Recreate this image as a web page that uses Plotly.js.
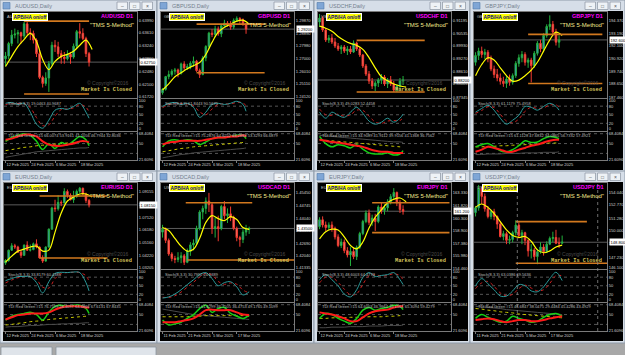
<!DOCTYPE html>
<html><head><meta charset="utf-8">
<script src="https://cdn.plot.ly/plotly-3.0.1.min.js"></script>
<style>html,body{margin:0;padding:0;background:#ababab;overflow:hidden}#c{width:625px;height:355px}</style>
</head><body><div id="c"></div><script>
// ---------- shared axis data ----------
const DATES_A = ['12 Feb 2025','24 Feb 2025','6 Mar 2025','18 Mar 2025'];
const DATES_B = ['11 Feb 2025','21 Feb 2025','5 Mar 2025','17 Mar 2025'];
const DATE_TICK_BARS = [0, 8, 16, 24];
const IND_X28 = [0,2,4,6,8,10,12,14,16,18,20,22,24,26,27];
const IND_X29 = [0,2,4,6,8,10,12,14,16,18,20,22,24,26,28];
const MA_X = [0,2,4,6,8,10,12,14,16,18,20,22,24,26,28];
const STOCH_TICKS = [0,20,50,80,100];
const STOCH_LEVELS = [20,50,80];
const TDI_TICKS = [21.6,50,68.4];
const TDI_TICKTEXT = ['21.6096','50','68.4084'];
const TDI_LEVELS = [32,50,68];

// ---------- AUDUSD ----------
const AUDUSD_open  = [0.6285,0.6293,0.6330,0.6355,0.6358,0.6362,0.6352,0.6388,0.6362,0.6360,0.6340,0.6300,0.6230,0.6212,0.6228,0.6270,0.6325,0.6320,0.6300,0.6290,0.6285,0.6298,0.6290,0.6322,0.6365,0.6360,0.6345,0.6300];
const AUDUSD_high  = [0.6305,0.6335,0.6370,0.6374,0.6370,0.6365,0.6395,0.6408,0.6375,0.6368,0.6345,0.6310,0.6235,0.6245,0.6278,0.6335,0.6340,0.6335,0.6310,0.6305,0.6310,0.6305,0.6330,0.6370,0.6390,0.6375,0.6350,0.6305];
const AUDUSD_low   = [0.6262,0.6283,0.6322,0.6345,0.6330,0.6330,0.6345,0.6355,0.6340,0.6330,0.6290,0.6225,0.6200,0.6205,0.6187,0.6265,0.6305,0.6290,0.6270,0.6270,0.6280,0.6270,0.6285,0.6315,0.6345,0.6340,0.6290,0.6262];
const AUDUSD_close = [0.6293,0.6330,0.6355,0.6358,0.6362,0.6352,0.6388,0.6362,0.6360,0.6340,0.6300,0.6230,0.6212,0.6228,0.6270,0.6325,0.6320,0.6300,0.6290,0.6285,0.6298,0.6290,0.6322,0.6365,0.6360,0.6345,0.6300,0.6275];
const AUDUSD_ma    = [0.6262,0.6292,0.6321,0.6342,0.6360,0.6336,0.6283,0.6253,0.6277,0.6292,0.6298,0.6307,0.6325,0.6340,0.6312];
const AUDUSD_orange = [0.6396,0.6181];
const AUDUSD_span  = [[6,27],[6,27]];
const AUDUSD_stochK = [90,93,86,90,59,17,3,31,66,72,69,79,90,59,38];
const AUDUSD_stochD = [85,91,89,89,75,40,12,15,45,68,70,74,86,76,60];
const AUDUSD_tdiRed = [57,59,63,66,66,63,54,48,46,46,48,50,54,54,52];
const AUDUSD_tdiGreen = [54,61,65,68,65,54,39,50,41,52,48,55,63,57,46];
const AUDUSD_tdiYellow = [37,39,41,43,44,46,47,48,49,50,51,52,53,54,55];
const AUDUSD_tdiGrey = [25,27,29,31,33,35,36,37,38,39,40,41,42,42,43];
const AUDUSD_ticks = [0.61720,0.62100,0.62480,0.62860,0.63240,0.63610,0.63990];
const AUDUSD_range = [0.6169,0.6423];

// ---------- GBPUSD ----------
const GBPUSD_open  = [1.2445,1.2470,1.2565,1.2580,1.2605,1.2615,1.2590,1.2660,1.2630,1.2640,1.2665,1.2680,1.2610,1.2580,1.2705,1.2790,1.2890,1.2880,1.2920,1.2885,1.2945,1.2965,1.2960,1.2935,1.2985,1.3000,1.2990,1.2960];
const GBPUSD_high  = [1.2480,1.2570,1.2610,1.2620,1.2630,1.2625,1.2670,1.2680,1.2660,1.2680,1.2715,1.2690,1.2625,1.2720,1.2800,1.2900,1.2920,1.2945,1.2940,1.2960,1.2990,1.2980,1.2980,1.3000,1.3015,1.3010,1.3000,1.2965];
const GBPUSD_low   = [1.2430,1.2460,1.2545,1.2565,1.2580,1.2560,1.2580,1.2610,1.2615,1.2620,1.2640,1.2600,1.2555,1.2575,1.2680,1.2770,1.2860,1.2860,1.2870,1.2860,1.2940,1.2940,1.2915,1.2920,1.2975,1.2960,1.2945,1.2885];
const GBPUSD_close = [1.2470,1.2565,1.2580,1.2605,1.2615,1.2590,1.2660,1.2630,1.2640,1.2665,1.2680,1.2610,1.2580,1.2705,1.2790,1.2890,1.2880,1.2920,1.2885,1.2945,1.2965,1.2960,1.2935,1.2985,1.3000,1.2990,1.2960,1.2920];
const GBPUSD_ma    = [1.2465,1.2511,1.2564,1.2594,1.2624,1.2647,1.2670,1.2730,1.2821,1.2897,1.2934,1.2957,1.2980,1.2987,1.2957];
const GBPUSD_orange = [1.2957,1.2594];
const GBPUSD_span  = [[11,33],[11,33]];
const GBPUSD_stochK = [79,90,93,86,90,76,41,59,86,90,86,90,97,86,62];
const GBPUSD_stochD = [75,85,91,89,88,82,60,50,70,86,88,88,93,92,80];
const GBPUSD_tdiRed = [48,52,53,55,55,55,55,57,59,61,61,63,63,65,63];
const GBPUSD_tdiGreen = [44,55,57,55,57,55,48,53,59,61,61,63,65,65,59];
const GBPUSD_tdiYellow = [35,37,39,41,42,44,45,46,47,48,49,50,51,52,53];
const GBPUSD_tdiGrey = [24,26,28,30,31,33,34,35,36,37,38,39,40,41,42];
const GBPUSD_ticks = [1.24120,1.25110,1.26010,1.27000,1.27980,1.28890,1.29870];
const GBPUSD_range = [1.2405,1.3048];

// ---------- USDCHF ----------
const USDCHF_open  = [0.9110,0.9130,0.9070,0.9020,0.9030,0.9010,0.8990,0.8975,0.8985,0.8965,0.8975,0.8960,0.9005,0.8975,0.8945,0.8890,0.8850,0.8815,0.8790,0.8805,0.8820,0.8835,0.8800,0.8820,0.8800,0.8770,0.8790,0.8815];
const USDCHF_high  = [0.9150,0.9140,0.9080,0.9045,0.9050,0.9030,0.9005,0.8995,0.8995,0.8990,0.8990,0.9018,0.9012,0.8985,0.8950,0.8900,0.8865,0.8830,0.8815,0.8830,0.8850,0.8845,0.8830,0.8840,0.8815,0.8800,0.8830,0.8840];
const USDCHF_low   = [0.9085,0.9060,0.9010,0.9005,0.9000,0.8980,0.8965,0.8950,0.8955,0.8945,0.8950,0.8955,0.8965,0.8935,0.8880,0.8840,0.8800,0.8775,0.8765,0.8785,0.8800,0.8790,0.8780,0.8790,0.8760,0.8760,0.8775,0.8795];
const USDCHF_close = [0.9130,0.9070,0.9020,0.9030,0.9010,0.8990,0.8975,0.8985,0.8965,0.8975,0.8960,0.9005,0.8975,0.8945,0.8890,0.8850,0.8815,0.8790,0.8805,0.8820,0.8835,0.8800,0.8820,0.8800,0.8770,0.8790,0.8815,0.8820];
const USDCHF_ma    = [0.9089,0.9079,0.9064,0.9038,0.9018,0.9003,0.8993,0.8973,0.8932,0.8881,0.8836,0.8816,0.8800,0.8790,0.8785];
const USDCHF_orange = [0.9018,0.8760];
const USDCHF_span  = [[12,34],[12,34]];
const USDCHF_stochK = [59,38,59,48,41,59,76,55,28,17,24,38,24,38,52];
const USDCHF_stochD = [70,50,48,52,45,50,66,65,45,25,20,28,30,30,40];
const USDCHF_tdiRed = [57,55,53,52,50,48,46,44,40,37,35,35,33,33,33];
const USDCHF_tdiGreen = [63,50,44,48,46,42,48,40,33,31,31,33,29,31,37];
const USDCHF_tdiYellow = [57,56,55,54,53,52,51,50,49,48,47,46,45,44,43];
const USDCHF_tdiGrey = [65,64,63,62,61,60,59,58,57,56,55,54,53,53,52];
const USDCHF_ticks = [0.87345,0.88005,0.88610,0.89270,0.89930,0.90535,0.91195];
const USDCHF_range = [0.8730,0.9160];

// ---------- GBPJPY ----------
const GBPJPY_open  = [190.6,191.2,191.6,191.3,191.5,190.9,190.0,189.5,189.2,188.9,188.7,189.1,188.8,189.4,190.5,191.0,191.3,190.6,190.8,190.3,191.4,192.3,191.8,193.0,193.8,194.0,193.3,192.4];
const GBPJPY_high  = [191.5,191.9,192.0,191.8,191.7,191.2,190.3,190.0,189.6,189.3,189.4,189.5,189.6,190.7,191.3,191.6,191.5,191.0,191.0,191.6,192.5,192.6,193.2,194.0,194.8,194.3,193.6,193.0];
const GBPJPY_low   = [190.3,190.8,191.0,190.9,190.6,189.8,189.2,188.9,188.6,188.4,188.3,188.5,188.6,189.2,190.2,190.6,190.3,190.1,188.8,190.1,191.2,191.5,191.6,192.8,193.5,193.0,192.1,191.9];
const GBPJPY_close = [191.2,191.6,191.3,191.5,190.9,190.0,189.5,189.2,188.9,188.7,189.1,188.8,189.4,190.5,191.0,191.3,190.6,190.8,190.3,191.4,192.3,191.8,193.0,193.8,194.0,193.3,192.4,192.6];
const GBPJPY_ma    = [189.4,190.4,191.0,190.8,190.1,189.4,188.9,189.0,189.4,189.9,190.6,191.6,192.6,193.3,193.0];
const GBPJPY_orange = [193.1,188.7];
const GBPJPY_span  = [[17,41],[17,41]];
const GBPJPY_stochK = [59,72,83,66,38,17,31,48,79,76,66,79,90,79,66];
const GBPJPY_stochD = [55,65,78,75,52,28,22,35,62,76,72,74,84,85,76];
const GBPJPY_tdiRed = [35,39,44,42,39,35,35,39,42,46,48,52,55,57,57];
const GBPJPY_tdiGreen = [44,48,50,44,37,35,39,46,55,52,53,59,63,61,59];
const GBPJPY_tdiYellow = [44,44,45,45,46,46,47,47,48,48,49,50,51,51,52];
const GBPJPY_tdiGrey = [30,30,31,31,31,32,32,32,33,33,33,34,34,34,35];
const GBPJPY_ticks = [187.460,188.650,189.740,190.920,192.100,193.190,194.370];
const GBPJPY_range = [187.4,195.1];

// ---------- EURUSD ----------
const EURUSD_open  = [1.0360,1.0380,1.0460,1.0495,1.0485,1.0445,1.0420,1.0500,1.0460,1.0465,1.0510,1.0485,1.0400,1.0375,1.0485,1.0625,1.0790,1.0785,1.0835,1.0830,1.0920,1.0890,1.0855,1.0880,1.0920,1.0945,1.0900,1.0850];
const EURUSD_high  = [1.0390,1.0465,1.0515,1.0510,1.0495,1.0460,1.0505,1.0530,1.0505,1.0520,1.0545,1.0490,1.0420,1.0490,1.0630,1.0800,1.0855,1.0890,1.0850,1.0945,1.0935,1.0905,1.0925,1.0935,1.0955,1.0950,1.0910,1.0860];
const EURUSD_low   = [1.0345,1.0370,1.0455,1.0470,1.0440,1.0400,1.0415,1.0455,1.0450,1.0460,1.0475,1.0395,1.0360,1.0370,1.0480,1.0620,1.0760,1.0770,1.0805,1.0825,1.0870,1.0850,1.0830,1.0870,1.0905,1.0890,1.0830,1.0795];
const EURUSD_close = [1.0380,1.0460,1.0495,1.0485,1.0445,1.0420,1.0500,1.0460,1.0465,1.0510,1.0485,1.0400,1.0375,1.0485,1.0625,1.0790,1.0785,1.0835,1.0830,1.0920,1.0890,1.0855,1.0880,1.0920,1.0945,1.0900,1.0850,1.0815];
const EURUSD_ma    = [1.0367,1.0414,1.0453,1.0468,1.0485,1.0492,1.0453,1.0461,1.0602,1.0751,1.0845,1.0876,1.0900,1.0900,1.0876];
const EURUSD_orange = [1.0884,1.0399];
const EURUSD_span  = [[11,33],[11,33]];
const EURUSD_stochK = [68,75,82,82,82,61,25,64,93,97,96,98,96,61,32];
const EURUSD_stochD = [60,70,78,82,82,72,45,42,75,92,96,97,96,85,65];
const EURUSD_tdiRed = [41,45,49,50,52,52,52,54,59,63,65,65,65,63,63];
const EURUSD_tdiGreen = [40,47,50,52,54,50,40,54,65,67,65,67,67,61,52];
const EURUSD_tdiYellow = [31,32,34,35,37,38,39,41,42,43,44,45,46,47,48];
const EURUSD_tdiGrey = [27,28,28,29,30,30,31,32,32,33,33,34,34,35,35];
const EURUSD_ticks = [1.03205,1.04220,1.05160,1.06180,1.07120,1.08135,1.09155];
const EURUSD_range = [1.0313,1.0986];

// ---------- USDCAD ----------
const USDCAD_open  = [1.4330,1.4345,1.4285,1.4210,1.4185,1.4180,1.4190,1.4200,1.4165,1.4225,1.4260,1.4270,1.4350,1.4440,1.4460,1.4500,1.4480,1.4350,1.4360,1.4350,1.4470,1.4420,1.4430,1.4410,1.4350,1.4300,1.4290,1.4330,1.4345];
const USDCAD_high  = [1.4370,1.4355,1.4295,1.4220,1.4200,1.4220,1.4220,1.4210,1.4240,1.4275,1.4290,1.4365,1.4450,1.4475,1.4520,1.4545,1.4490,1.4410,1.4420,1.4480,1.4500,1.4460,1.4470,1.4420,1.4360,1.4310,1.4345,1.4370,1.4360];
const USDCAD_low   = [1.4300,1.4270,1.4200,1.4170,1.4160,1.4165,1.4160,1.4150,1.4160,1.4200,1.4230,1.4260,1.4340,1.4400,1.4430,1.4440,1.4320,1.4300,1.4280,1.4340,1.4400,1.4380,1.4390,1.4340,1.4280,1.4250,1.4270,1.4310,1.4320];
const USDCAD_close = [1.4345,1.4285,1.4210,1.4185,1.4180,1.4190,1.4200,1.4165,1.4225,1.4260,1.4270,1.4350,1.4440,1.4460,1.4500,1.4480,1.4350,1.4360,1.4350,1.4470,1.4420,1.4430,1.4410,1.4350,1.4300,1.4290,1.4330,1.4345,1.4350];
const USDCAD_ma    = [1.4355,1.4339,1.4296,1.4253,1.4226,1.4236,1.4296,1.4383,1.4420,1.4404,1.4393,1.4415,1.4399,1.4355,1.4345];
const USDCAD_orange = [1.4491,1.4177];
const USDCAD_span  = [[7.5,29],[8,42.5]];
const USDCAD_stochK = [7,11,21,36,54,71,89,96,75,50,61,64,46,18,29];
const USDCAD_stochD = [10,9,15,28,45,62,80,93,88,65,55,60,55,35,25];
const USDCAD_tdiRed = [36,36,36,38,40,43,50,58,59,58,58,58,54,50,49];
const USDCAD_tdiGreen = [40,31,33,36,43,50,61,67,54,61,63,52,47,43,49];
const USDCAD_tdiYellow = [46,46,46,46,46,47,47,48,48,48,48,48,48,48,47];
const USDCAD_tdiGrey = [60,58,56,54,52,50,49,48,47,46,45,44,43,42,41];
const USDCAD_ticks = [1.41335,1.42040,1.42690,1.43395,1.44040,1.44745,1.45450];
const USDCAD_range = [1.4128,1.4599];

// ---------- EURJPY ----------
const EURJPY_open  = [159.4,160.2,159.6,159.3,159.6,159.2,158.2,157.2,157.6,156.6,156.1,156.5,155.9,157.0,158.6,160.0,161.0,159.9,160.4,160.0,161.7,161.3,161.6,162.3,162.9,163.4,162.2,161.4];
const EURJPY_high  = [160.5,160.6,160.0,159.9,160.0,159.4,158.5,158.0,157.9,157.0,157.0,157.0,157.2,158.8,160.2,161.3,161.4,160.8,160.9,161.9,162.2,162.0,162.6,163.2,163.9,163.5,162.5,161.9];
const EURJPY_low   = [159.1,159.3,158.9,159.0,158.8,157.9,157.0,156.9,156.3,155.8,154.8,155.6,155.5,156.8,158.4,159.8,159.6,159.5,158.9,159.8,160.9,160.8,161.2,162.0,162.6,161.8,161.0,160.8];
const EURJPY_close = [160.2,159.6,159.3,159.6,159.2,158.2,157.2,157.6,156.6,156.1,156.5,155.9,157.0,158.6,160.0,161.0,159.9,160.4,160.0,161.7,161.3,161.6,162.3,162.9,163.4,162.2,161.4,161.2];
const EURJPY_ma    = [157.97,158.8,159.1,159.0,158.2,157.2,156.8,157.6,159.25,160.5,161.35,162.2,162.6,162.75,162.3];
const EURJPY_orange = [162.2,158.7];
const EURJPY_span  = [[17,42],[17,42]];
const EURJPY_stochK = [71,89,71,50,21,11,36,79,96,82,86,89,96,71,54];
const EURJPY_stochD = [60,80,80,62,38,18,22,55,85,88,84,86,92,85,70];
const EURJPY_tdiRed = [54,52,50,47,43,38,38,45,52,56,58,59,63,65,65];
const EURJPY_tdiGreen = [43,52,50,43,38,34,43,58,63,58,61,63,67,65,59];
const EURJPY_tdiYellow = [43,43,44,44,44,45,45,45,46,46,46,47,47,48,48];
const EURJPY_tdiGrey = [26,26,27,27,27,28,28,28,29,29,29,30,30,30,31];
const EURJPY_ticks = [154.460,155.980,157.380,158.900,160.300,161.820,163.330];
const EURJPY_range = [154.45,164.5];

// ---------- USDJPY ----------
const USDJPY_open  = [151.9,152.4,154.4,153.6,152.3,151.5,152.0,151.5,150.7,149.4,149.7,149.0,149.1,149.8,150.6,149.5,149.8,149.0,147.9,148.0,147.3,147.8,148.3,147.8,148.6,149.2,149.3,148.7,148.7];
const USDJPY_high  = [152.6,154.8,154.6,153.9,152.6,152.2,152.3,151.6,151.0,150.0,149.9,149.5,150.0,151.1,150.9,150.1,149.9,149.1,148.6,148.2,148.1,148.8,148.6,148.9,149.4,149.9,150.1,149.3,149.5];
const USDJPY_low   = [151.5,152.1,152.8,152.0,151.3,151.2,151.1,150.2,149.3,149.0,148.6,148.6,148.8,149.5,149.2,148.6,148.5,147.3,147.1,146.9,146.5,147.6,147.4,147.7,148.5,148.8,148.6,148.2,148.6];
const USDJPY_close = [152.4,154.4,153.6,152.3,151.5,152.0,151.5,150.7,149.4,149.7,149.0,149.1,149.8,150.6,149.5,149.8,149.0,147.9,148.0,147.3,147.8,148.3,147.8,148.6,149.2,149.3,148.7,148.7,148.8];
const USDJPY_ma    = [152.45,152.8,152.45,151.8,150.96,150.1,149.5,149.3,149.4,148.9,148.0,147.7,147.9,148.3,148.5];
const USDJPY_orange = [150.96,146.6];
const USDJPY_span  = [[13,36],[13,43]];
const USDJPY_stochK = [50,75,57,36,14,14,32,54,50,32,29,46,75,97,68];
const USDJPY_stochD = [40,60,65,48,25,15,20,40,52,42,32,36,58,85,85];
const USDJPY_tdiRed = [40,41.5,43,41.5,38,36,38,40,40,38,38,40,43,45,47];
const USDJPY_tdiGreen = [43,50,45,40,36,38,47,43,40,36,38,45,50,52,47];
const USDJPY_tdiYellow = [61,60,58,57,55,54,53,51,50,49,48,47,46,45,44];
const USDJPY_tdiGrey = [65,64,63,62,61,59,58,57,56,55,54,53,52,51,50];
const USDJPY_ticks = [146.100,147.230,148.620,150.000,151.280,152.770,154.040];
const USDJPY_range = [146.0,155.0];
const USDJPY_separators = [13.5,39.5];

// ---------- panel assembly ----------
const PANELS = [
 {sym:'AUDUSD',col:0,row:0,o:AUDUSD_open,h:AUDUSD_high,l:AUDUSD_low,c:AUDUSD_close,ma:AUDUSD_ma,k:AUDUSD_stochK,d:AUDUSD_stochD,tr:AUDUSD_tdiRed,tg:AUDUSD_tdiGreen,ty:AUDUSD_tdiYellow,tk:AUDUSD_tdiGrey,ticks:AUDUSD_ticks,yr:AUDUSD_range,orange:AUDUSD_orange,span:AUDUSD_span,dates:DATES_A,dec:5,
  st:'Stoch(8,3,3) 19.0463 40.9687',td:'TDI Red Green #15 66.0074 53.9161 41.1056 46.7944 32.8036'},
 {sym:'GBPUSD',col:1,row:0,o:GBPUSD_open,h:GBPUSD_high,l:GBPUSD_low,c:GBPUSD_close,ma:GBPUSD_ma,k:GBPUSD_stochK,d:GBPUSD_stochD,tr:GBPUSD_tdiRed,tg:GBPUSD_tdiGreen,ty:GBPUSD_tdiYellow,tk:GBPUSD_tdiGrey,ticks:GBPUSD_ticks,yr:GBPUSD_range,orange:GBPUSD_orange,span:GBPUSD_span,dates:DATES_A,dec:5,
  st:'Stoch(8,3,3) 61.8443 90.5675',td:'TDI Red Green #15 75.2876 64.6252 63.2883 53.3293 66.6879'},
 {sym:'USDCHF',col:2,row:0,o:USDCHF_open,h:USDCHF_high,l:USDCHF_low,c:USDCHF_close,ma:USDCHF_ma,k:USDCHF_stochK,d:USDCHF_stochD,tr:USDCHF_tdiRed,tg:USDCHF_tdiGreen,ty:USDCHF_tdiYellow,tk:USDCHF_tdiGrey,ticks:USDCHF_ticks,yr:USDCHF_range,orange:USDCHF_orange,span:USDCHF_span,dates:DATES_A,dec:5,
  st:'Stoch(8,3,3) 49.0283 52.4458',td:'TDI Red Green #15 34.9089 41.9112 39.9156 41.1368 36.7562'},
 {sym:'GBPJPY',col:3,row:0,o:GBPJPY_open,h:GBPJPY_high,l:GBPJPY_low,c:GBPJPY_close,ma:GBPJPY_ma,k:GBPJPY_stochK,d:GBPJPY_stochD,tr:GBPJPY_tdiRed,tg:GBPJPY_tdiGreen,ty:GBPJPY_tdiYellow,tk:GBPJPY_tdiGrey,ticks:GBPJPY_ticks,yr:GBPJPY_range,orange:GBPJPY_orange,span:GBPJPY_span,dates:DATES_A,dec:3,
  st:'Stoch(8,3,3) 61.1179 75.4958',td:'TDI Red Green #15 61.1128 47.6832 34.0865 56.7332 57.4921'},
 {sym:'EURUSD',col:0,row:1,o:EURUSD_open,h:EURUSD_high,l:EURUSD_low,c:EURUSD_close,ma:EURUSD_ma,k:EURUSD_stochK,d:EURUSD_stochD,tr:EURUSD_tdiRed,tg:EURUSD_tdiGreen,ty:EURUSD_tdiYellow,tk:EURUSD_tdiGrey,ticks:EURUSD_ticks,yr:EURUSD_range,orange:EURUSD_orange,span:EURUSD_span,dates:DATES_A,dec:5,
  st:'Stoch(8,3,3) 33.8179 60.4385',td:'TDI Red Green #15 76.7599 58.4097 64.4866 67.6131 67.8435'},
 {sym:'USDCAD',col:1,row:1,o:USDCAD_open,h:USDCAD_high,l:USDCAD_low,c:USDCAD_close,ma:USDCAD_ma,k:USDCAD_stochK,d:USDCAD_stochD,tr:USDCAD_tdiRed,tg:USDCAD_tdiGreen,ty:USDCAD_tdiYellow,tk:USDCAD_tdiGrey,ticks:USDCAD_ticks,yr:USDCAD_range,orange:USDCAD_orange,span:USDCAD_span,dates:DATES_B,dec:5,
  st:'Stoch(8,3,3) 30.7992 24.6389',td:'TDI Red Green #15 61.6299 46.7505 36.4753 49.1765 49.1099'},
 {sym:'EURJPY',col:2,row:1,o:EURJPY_open,h:EURJPY_high,l:EURJPY_low,c:EURJPY_close,ma:EURJPY_ma,k:EURJPY_stochK,d:EURJPY_stochD,tr:EURJPY_tdiRed,tg:EURJPY_tdiGreen,ty:EURJPY_tdiYellow,tk:EURJPY_tdiGrey,ticks:EURJPY_ticks,yr:EURJPY_range,orange:EURJPY_orange,span:EURJPY_span,dates:DATES_A,dec:3,
  st:'Stoch(8,3,3) 48.6003 64.4773',td:'TDI Red Green #15 64.6003 46.9964 39.1561 65.3094 59.4279'},
 {sym:'USDJPY',col:3,row:1,o:USDJPY_open,h:USDJPY_high,l:USDJPY_low,c:USDJPY_close,ma:USDJPY_ma,k:USDJPY_stochK,d:USDJPY_stochD,tr:USDJPY_tdiRed,tg:USDJPY_tdiGreen,ty:USDJPY_tdiYellow,tk:USDJPY_tdiGrey,ticks:USDJPY_ticks,yr:USDJPY_range,orange:USDJPY_orange,span:USDJPY_span,dates:DATES_B,dec:3,sep:USDJPY_separators,
  st:'Stoch(8,3,3) 63.0386 69.5636',td:'TDI Red Green #15 46.6847 38.0475 29.4484 45.4286 43.4929'}
];

const W=625,H=355;
const fx=x=>x/W, fy=y=>1-y/H;
const COLS=[0,157,314,470], COLW=[157,157,156,155], ROWS=[0,171];
const xn=k=>k===1?'x':'x'+k, yn=k=>k===1?'y':'y'+k;
const xl=k=>k===1?'xaxis':'xaxis'+k, yl=k=>k===1?'yaxis':'yaxis'+k;
const SMALL='Liberation Sans, Arial, sans-serif';

const data=[], shapes=[], annotations=[];
const layout={width:W,height:H,margin:{l:0,r:0,t:0,b:0},paper_bgcolor:'#ababab',plot_bgcolor:'#000000',
  showlegend:false,font:{family:SMALL,size:5,color:'#cfcfcf'}};
const axBase={showgrid:false,zeroline:false,showline:true,mirror:true,linecolor:'#7a7a7a',linewidth:1,ticks:'',fixedrange:true};
const rect=(x0,y0,x1,y1,fill,line,lw)=>({type:'rect',xref:'paper',yref:'paper',x0:fx(x0),x1:fx(x1),y0:fy(y1),y1:fy(y0),
  fillcolor:fill,line:{color:line||fill,width:lw===undefined?(line?1:0):lw},layer:'below'});
const ann=(x,y,text,o)=>Object.assign({xref:'paper',yref:'paper',x:fx(x),y:fy(y),text:text,showarrow:false,
  xanchor:'left',yanchor:'middle',font:{size:5,color:'#cfcfcf'}},o||{});

// background strip & tabs at the bottom
shapes.push(rect(0,343,625,355,'#a8a8a8'));
shapes.push(rect(1,347,52,356,'#dfe4ea','#8a94a0',0.8));
shapes.push(rect(56,347,156,356,'#dfe4ea','#8a94a0',0.8));

PANELS.forEach((P,i)=>{
  const ox=COLS[P.col], oy=ROWS[P.row], ww=COLW[P.col];
  const kP=i*3+1,kS=i*3+2,kT=i*3+3;
  const idx=P.c.map((_,j)=>j);
  const indX=P.c.length===29?IND_X29:IND_X28;
  const xd=[fx(ox+4),fx(ox+137)];
  const last=P.c[P.c.length-1];

  // window chrome
  shapes.push(rect(ox,oy,ox+ww,oy+172,'#d6dee8','#8e9aa8',1));
  shapes.push(rect(ox+3,oy+11,ox+ww-2,oy+170,'#000000'));
  shapes.push(rect(ox+3,oy+2.5,ox+10,oy+9,'#7fa6d6','#5078a8',0.6));
  for(let b=0;b<3;b++) shapes.push(rect(ox+ww-40+b*12.5,oy+2,ox+ww-29.5+b*12.5,oy+9.5,'#eef2f6','#8a94a0',0.7));
  annotations.push(ann(ox+13,oy+6,P.sym+',Daily',{font:{size:5.5,color:'#74808e'}}));
  ['–','□','×'].forEach((g,b)=>annotations.push(ann(ox+ww-34.75+b*12.5,oy+5.8,g,{xanchor:'center',font:{size:5,color:'#555'}})));

  // price panel
  data.push({type:'candlestick',x:idx,open:P.o,high:P.h,low:P.l,close:P.c,xaxis:xn(kP),yaxis:yn(kP),
    increasing:{line:{color:'#22b03c',width:1},fillcolor:'#4c84ec'},
    decreasing:{line:{color:'#f23a30',width:1},fillcolor:'#f48b7e'},whiskerwidth:0,hoverinfo:'skip'});
  data.push({type:'scatter',mode:'lines',x:MA_X,y:P.ma,xaxis:xn(kP),yaxis:yn(kP),line:{color:'#ffff00',width:1.2,shape:'spline'},hoverinfo:'skip'});
  P.orange.forEach((lv,j)=>data.push({type:'scatter',mode:'lines',x:P.span[j],y:[lv,lv],xaxis:xn(kP),yaxis:yn(kP),line:{color:'#d2781e',width:1.6},hoverinfo:'skip'}));
  layout[xl(kP)]=Object.assign({},axBase,{domain:xd,range:[-0.5,42.5],anchor:yn(kP),showticklabels:false,rangeslider:{visible:false}});
  layout[yl(kP)]=Object.assign({},axBase,{domain:[fy(oy+98),fy(oy+12)],range:P.yr,anchor:xn(kP),side:'right',
    tickvals:P.ticks,tickformat:'.'+P.dec+'f',tickfont:{size:4.1,color:'#d0d0d0',family:SMALL}});
  shapes.push({type:'line',xref:xn(kP)+' domain',yref:yn(kP),x0:0,x1:1,y0:last,y1:last,line:{color:'#5c5c5c',width:1},layer:'below'});
  annotations.push({xref:'paper',yref:yn(kP),x:fx(ox+138.5),y:last,text:last.toFixed(P.dec),showarrow:false,xanchor:'left',yanchor:'middle',
    bgcolor:'#ffffff',borderpad:0.5,font:{size:4.1,color:'#000000',family:SMALL}});
  if(P.sep) P.sep.forEach(s=>shapes.push({type:'line',xref:xn(kP),yref:'paper',x0:s,x1:s,y0:fy(oy+160),y1:fy(oy+12),
    line:{color:'#8c8c8c',width:0.8,dash:'dot'},layer:'above'}));

  // stochastic
  data.push({type:'scatter',mode:'lines',x:indX,y:P.d,xaxis:xn(kS),yaxis:yn(kS),line:{color:'#c81e1e',width:1,dash:'dot',shape:'spline'},hoverinfo:'skip'});
  data.push({type:'scatter',mode:'lines',x:indX,y:P.k,xaxis:xn(kS),yaxis:yn(kS),line:{color:'#2a9a9a',width:1,shape:'spline'},hoverinfo:'skip'});
  layout[xl(kS)]=Object.assign({},axBase,{domain:xd,range:[-0.5,42.5],anchor:yn(kS),showticklabels:false});
  layout[yl(kS)]=Object.assign({},axBase,{domain:[fy(oy+130.5),fy(oy+99)],range:[-5,105],anchor:xn(kS),side:'right',
    tickvals:STOCH_TICKS,tickfont:{size:4,color:'#d0d0d0',family:SMALL}});
  STOCH_LEVELS.forEach(v=>shapes.push({type:'line',xref:xn(kS)+' domain',yref:yn(kS),x0:0,x1:1,y0:v,y1:v,line:{color:'#6c6c6c',width:0.8,dash:'dot'},layer:'below'}));

  // TDI
  data.push({type:'scatter',mode:'lines',x:indX,y:P.tk,xaxis:xn(kT),yaxis:yn(kT),line:{color:'#4a4a4a',width:1,shape:'spline'},hoverinfo:'skip'});
  data.push({type:'scatter',mode:'lines',x:indX,y:P.ty,xaxis:xn(kT),yaxis:yn(kT),line:{color:'#c8c800',width:1,dash:'dot',shape:'spline'},hoverinfo:'skip'});
  data.push({type:'scatter',mode:'lines',x:indX,y:P.tg,xaxis:xn(kT),yaxis:yn(kT),line:{color:'#16d016',width:1.5,shape:'spline'},hoverinfo:'skip'});
  data.push({type:'scatter',mode:'lines',x:indX,y:P.tr,xaxis:xn(kT),yaxis:yn(kT),line:{color:'#ff1a1a',width:2,shape:'spline'},hoverinfo:'skip'});
  layout[xl(kT)]=Object.assign({},axBase,{domain:xd,range:[-0.5,42.5],anchor:yn(kT),tickvals:DATE_TICK_BARS,ticktext:P.dates,
    ticklabelposition:'outside right',tickangle:0,ticks:'outside',ticklen:2,tickcolor:'#7a7a7a',tickfont:{size:4,color:'#d0d0d0',family:SMALL}});
  layout[yl(kT)]=Object.assign({},axBase,{domain:[fy(oy+160),fy(oy+131.5)],range:[20,72],anchor:xn(kT),side:'right',
    tickvals:TDI_TICKS,ticktext:TDI_TICKTEXT,tickfont:{size:4,color:'#d0d0d0',family:SMALL}});
  TDI_LEVELS.forEach(v=>shapes.push({type:'line',xref:xn(kT)+' domain',yref:yn(kT),x0:0,x1:1,y0:v,y1:v,line:{color:'#6c6c6c',width:0.8,dash:'dot'},layer:'below'}));

  // chart texts
  annotations.push(ann(ox+5,oy+16,P.sym.slice(0,3),{font:{size:4,color:'#c0c0c0'}}));
  annotations.push(ann(ox+12,oy+17,'<b>APB/HA on/off</b>',{bgcolor:'#ffff00',bordercolor:'#ffffff',borderwidth:1,borderpad:0.5,font:{size:4.8,color:'#00007a'}}));
  annotations.push(ann(ox+135,oy+16,'<b>'+P.sym+' D1</b>',{xanchor:'right',font:{size:5.5,color:'#ff00ff'}}));
  annotations.push(ann(ox+136,oy+25,'"TMS 5-Method"',{xanchor:'right',font:{size:6,color:'#f0e68c'}}));
  annotations.push(ann(ox+130,oy+83,'© Copyright©2016',{xanchor:'right',font:{size:5,color:'#4c4c4c'}}));
  annotations.push(ann(ox+134,oy+90,'<b>Market Is Closed</b>',{xanchor:'right',font:{size:5.3,color:'#d4c25a',family:'Liberation Mono, Courier New, monospace'}}));
  annotations.push(ann(ox+6,oy+103,P.st,{font:{size:4,color:'#bdbdbd',family:SMALL}}));
  annotations.push(ann(ox+6,oy+135.5,P.td,{font:{size:4,color:'#bdbdbd',family:SMALL}}));
});

layout.shapes=shapes; layout.annotations=annotations;
Plotly.newPlot('c',data,layout,{staticPlot:true,displayModeBar:false});
</script></body></html>
